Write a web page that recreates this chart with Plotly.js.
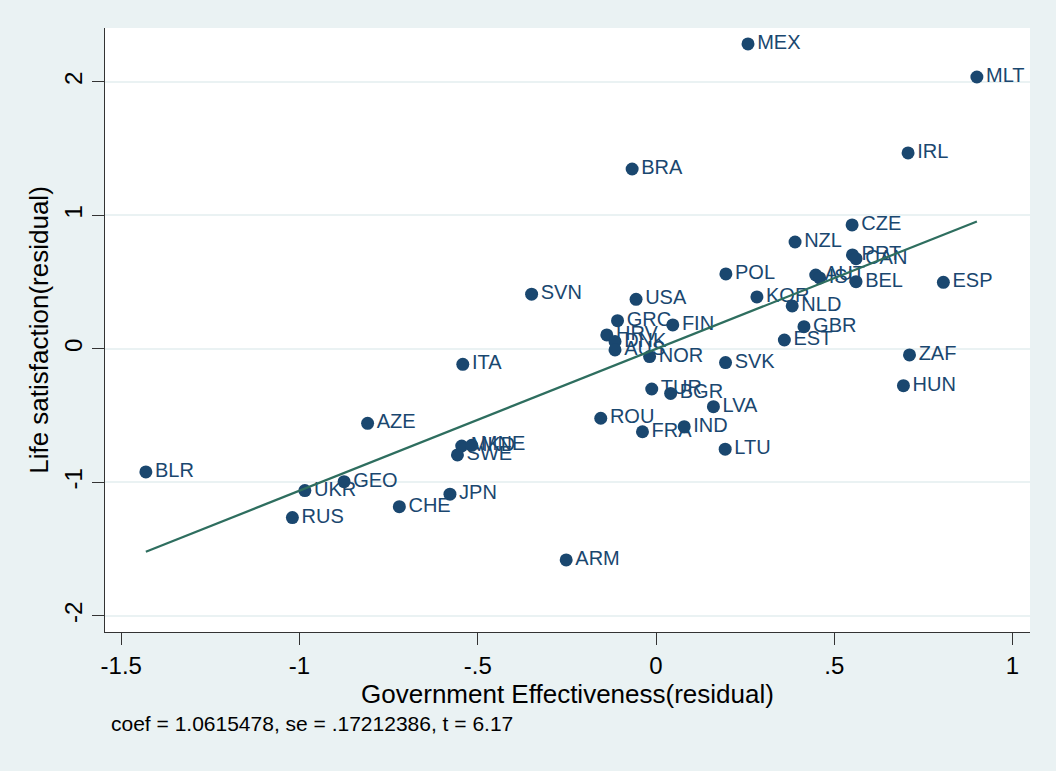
<!DOCTYPE html>
<html>
<head>
<meta charset="utf-8">
<script src="https://cdn.plot.ly/plotly-3.0.1.min.js"></script>
<style>html,body{margin:0;padding:0;background:#eaf2f3;}#chart{width:1056px;height:771px;}</style>
</head>
<body>
<div id="chart"></div>
<script>
const countries = ["MEX","MLT","IRL","BRA","CZE","NZL","PRT","CAN","POL","AUT","ISL","BEL","ESP","KOR","NLD","GBR","EST","ZAF","HUN","SVN","USA","GRC","FIN","HRV","DNK","AUS","NOR","ITA","SVK","TUR","BGR","LVA","ROU","IND","FRA","LTU","AZE","MKD","MNE","SWE","GEO","UKR","RUS","CHE","JPN","BLR","ARM"];
const govEff = [0.258,0.900,0.707,-0.067,0.550,0.390,0.551,0.561,0.196,0.448,0.459,0.561,0.806,0.283,0.382,0.415,0.360,0.711,0.694,-0.349,-0.056,-0.108,0.047,-0.138,-0.115,-0.115,-0.018,-0.542,0.195,-0.012,0.041,0.161,-0.155,0.079,-0.038,0.194,-0.809,-0.545,-0.517,-0.557,-0.875,-0.985,-1.020,-0.720,-0.578,-1.431,-0.252];
const lifeSat = [2.285,2.037,1.468,1.348,0.929,0.801,0.704,0.676,0.562,0.554,0.532,0.504,0.499,0.390,0.322,0.167,0.067,-0.045,-0.275,0.410,0.372,0.212,0.180,0.105,0.055,-0.007,-0.057,-0.115,-0.102,-0.300,-0.333,-0.432,-0.519,-0.582,-0.620,-0.751,-0.557,-0.727,-0.722,-0.794,-0.994,-1.061,-1.263,-1.181,-1.088,-0.921,-1.580];
const coef = 1.0615478;
const noteText = "coef = 1.0615478, se = .17212386, t = 6.17";
const xTickVals = [-1.5,-1,-0.5,0,0.5,1];
const xTickText = ["-1.5","-1","-.5","0",".5","1"];
const yTickVals = [-2,-1,0,1,2];
const yTickText = ["-2","-1","0","1","2"];

const xMin = Math.min(...govEff), xMax = Math.max(...govEff);
const fitX = [xMin, xMax];
const fitY = fitX.map(v => coef * v);

const font = "Liberation Sans, Arial, Helvetica, sans-serif";
const navy = "#1a476f";

const traces = [
  {
    x: govEff, y: lifeSat, text: countries, type: "scatter", mode: "markers+text",
    textposition: "middle right",
    marker: {color: navy, size: 13, line: {width: 0}},
    textfont: {family: font, size: 20, color: navy},
    hoverinfo: "skip", cliponaxis: false
  },
  {
    x: fitX, y: fitY, type: "scatter", mode: "lines",
    line: {color: "#2e6e5f", width: 2.2},
    hoverinfo: "skip"
  }
];

const layout = {
  width: 1056, height: 771,
  paper_bgcolor: "#eaf2f3", plot_bgcolor: "#ffffff",
  margin: {l: 105, r: 26, t: 28, b: 139},
  showlegend: false,
  font: {family: font, color: "#000"},
  xaxis: {
    range: [-1.5456, 1.049], tickvals: xTickVals, ticktext: xTickText,
    ticks: "outside", ticklen: 12, tickwidth: 1, tickcolor: "#333",
    showline: true, linecolor: "#333", linewidth: 1.2, mirror: false,
    showgrid: false, zeroline: false,
    tickfont: {family: font, size: 24, color: "#000"},
    title: {text: "Government Effectiveness(residual)", font: {family: font, size: 26, color: "#000"}, standoff: 0}
  },
  yaxis: {
    range: [-2.12, 2.404], tickvals: yTickVals, ticktext: yTickText,
    ticks: "outside", ticklen: 12, tickwidth: 1, tickcolor: "#333", tickangle: -90,
    showline: true, linecolor: "#333", linewidth: 1.2,
    showgrid: true, gridcolor: "#eaf2f3", gridwidth: 2, zeroline: false,
    tickfont: {family: font, size: 24, color: "#000"},
    title: {text: "Life satisfaction(residual)", font: {family: font, size: 26, color: "#000"}, standoff: 4}
  },
  annotations: [{
    text: noteText, xref: "paper", yref: "paper", x: 0.004, y: -0.152,
    xanchor: "left", yanchor: "middle", showarrow: false,
    font: {family: font, size: 21, color: "#000"}
  }]
};

Plotly.newPlot("chart", traces, layout, {displayModeBar: false, staticPlot: true});
</script>
</body>
</html>
